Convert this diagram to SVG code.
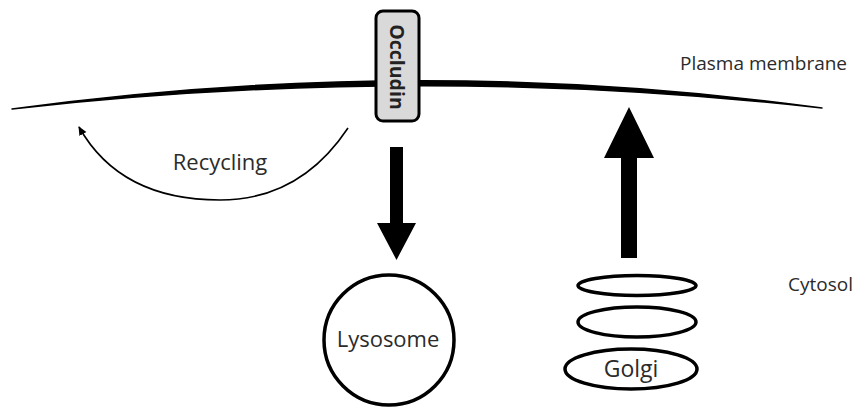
<svg xmlns="http://www.w3.org/2000/svg" width="858" height="408" viewBox="0 0 858 408">
<style>
text{font-family:"Open Sans","Liberation Sans",sans-serif;fill:#2b2b2b;}
.thick{fill:none;stroke:#000;stroke-width:3.5;}
</style>
<defs>
<marker id="ah" markerWidth="10" markerHeight="10" refX="8" refY="5" orient="auto" markerUnits="userSpaceOnUse">
<path d="M0,1 L9,5 L0,9 Z" fill="#000"/>
</marker>
</defs>
<rect width="858" height="408" fill="#fff"/>
<g id="membrane">
<path d="M12,109 Q420,53 822,108 Q420,63 12,109 Z" fill="#000" stroke="#000" stroke-width="1.5" stroke-linejoin="round"/>
<text x="680" y="70" font-size="19">Plasma membrane</text>
</g>
<g id="cytosol">
<text x="788" y="291" font-size="19">Cytosol</text>
</g>
<g id="occludin">
<rect x="376" y="11" width="43" height="110" rx="7" fill="#d9d9d9" stroke="#000" stroke-width="3"/>
<text x="0" y="0" transform="translate(390,67) rotate(90)" text-anchor="middle" font-weight="bold" font-size="19.5" style="fill:#222">Occludin</text>
</g>
<g id="lysosome">
<circle cx="389" cy="340" r="65" class="thick"/>
<text x="388" y="347" text-anchor="middle" font-size="22">Lysosome</text>
</g>
<g id="golgi">
<ellipse cx="637" cy="285.5" rx="59" ry="10" class="thick"/>
<ellipse cx="637" cy="322" rx="59" ry="15" class="thick"/>
<ellipse cx="631" cy="369" rx="66" ry="20" class="thick"/>
<text x="631" y="377" text-anchor="middle" font-size="23">Golgi</text>
</g>
<g id="recycling-label">
<text x="220" y="170" text-anchor="middle" font-size="22">Recycling</text>
</g>
<g id="connectors">
<path d="M348,128 Q300,200 220,200 Q120,200 79,127" fill="none" stroke="#000" stroke-width="1.6" marker-end="url(#ah)"/>
<path d="M390,147 H403 V223 H416 L396.5,260 L377,223 H390 Z" fill="#000"/>
<path d="M621,258 V158 H604 L629,107 L654,158 H637 V258 Z" fill="#000"/>
</g>
</svg>
